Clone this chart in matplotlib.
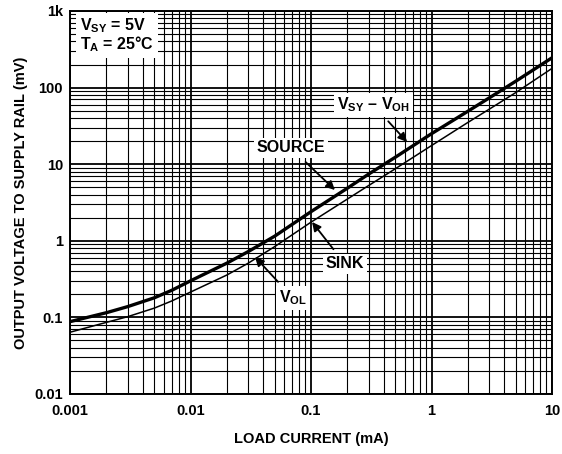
import matplotlib

matplotlib.use("Agg")
import matplotlib.pyplot as plt
from matplotlib.ticker import LogLocator, FixedLocator, NullFormatter

plt.rcParams["font.family"] = ["Liberation Sans", "DejaVu Sans"]
plt.rcParams["font.weight"] = "bold"
# subscripts in the labels should match the bold Arial-like face
plt.rcParams["mathtext.fontset"] = "custom"
plt.rcParams["mathtext.rm"] = "Liberation Sans:bold"
plt.rcParams["mathtext.bf"] = "Liberation Sans:bold"
plt.rcParams["mathtext.it"] = "Liberation Sans:bold"

# Load current (mA) and output voltage to supply rail (mV).
current_ma = [0.001, 0.002, 0.003, 0.005, 0.007, 0.01, 0.02, 0.03, 0.05,
              0.1, 0.2, 0.3, 0.5, 1, 2, 3, 5, 10]
source_mv = [0.088, 0.115, 0.138, 0.180, 0.226, 0.30, 0.51, 0.72, 1.15,
             2.4, 4.85, 7.4, 12.3, 25, 49, 73, 121, 245]
sink_mv = [0.064, 0.086, 0.102, 0.132, 0.164, 0.214, 0.357, 0.508, 0.84,
           1.75, 3.5, 5.25, 8.7, 17.5, 35, 52, 86, 178]

x_ticks = [0.001, 0.01, 0.1, 1, 10]
x_labels = ["0.001", "0.01", "0.1", "1", "10"]
y_ticks = [0.01, 0.1, 1, 10, 100, 1000]
y_labels = ["0.01", "0.1", "1", "10", "100", "1k"]

fig = plt.figure(figsize=(5.62, 4.54), dpi=100)
ax = fig.add_axes([0.1246, 0.1322, 0.8576, 0.8436])

ax.set_xscale("log")
ax.set_yscale("log")
ax.set_xlim(0.001, 10)
ax.set_ylim(0.01, 1000)

ax.plot(current_ma, source_mv, color="black", lw=2.4, zorder=3)
ax.plot(current_ma, sink_mv, color="black", lw=1.1, zorder=3)

ax.xaxis.set_major_locator(FixedLocator(x_ticks))
ax.yaxis.set_major_locator(FixedLocator(y_ticks))
ax.xaxis.set_minor_locator(LogLocator(base=10, subs=range(2, 10), numticks=20))
ax.yaxis.set_minor_locator(LogLocator(base=10, subs=range(2, 10), numticks=20))
ax.set_xticklabels(x_labels, fontsize=10.5, fontweight="bold")
ax.set_yticklabels(y_labels, fontsize=10.5, fontweight="bold")
ax.xaxis.set_minor_formatter(NullFormatter())
ax.yaxis.set_minor_formatter(NullFormatter())
ax.tick_params(which="both", length=0)
ax.tick_params(axis="x", pad=7)
ax.tick_params(axis="y", pad=5)

ax.grid(which="major", color="black", lw=1.3)
ax.grid(which="minor", color="black", lw=0.8)
for s in ax.spines.values():
    s.set_linewidth(1.4)

ax.set_xlabel("LOAD CURRENT (mA)", fontsize=10.5, fontweight="bold", labelpad=10)
ax.set_ylabel("OUTPUT VOLTAGE TO SUPPLY RAIL (mV)", fontsize=10.5, fontweight="bold", labelpad=5)

ax.text(0.02, 0.985, "V$_{SY}$ = 5V\nT$_{A}$ = 25°C", transform=ax.transAxes,
        fontsize=11.5, fontweight="bold", va="top", ha="left", linespacing=0.9,
        bbox=dict(facecolor="white", edgecolor="none", pad=3))

box = dict(facecolor="white", edgecolor="none", pad=2)
arrow = dict(arrowstyle="-|>", color="black", lw=1.3, mutation_scale=13,
             shrinkA=4, shrinkB=0)
label_kw = dict(fontsize=11.5, fontweight="bold", ha="center", va="center",
                bbox=box, arrowprops=arrow, zorder=5)
ax.annotate("V$_{SY}$ – V$_{OH}$", xy=(0.627, 19.5), xytext=(0.33, 59), **label_kw)
ax.annotate("SOURCE", xy=(0.158, 4.6), xytext=(0.068, 16.3), **label_kw)
ax.annotate("SINK", xy=(0.102, 1.76), xytext=(0.191, 0.50), **label_kw)
ax.annotate("V$_{OL}$", xy=(0.0343, 0.615), xytext=(0.0709, 0.179), **label_kw)

fig.savefig("out.png", dpi=100)
